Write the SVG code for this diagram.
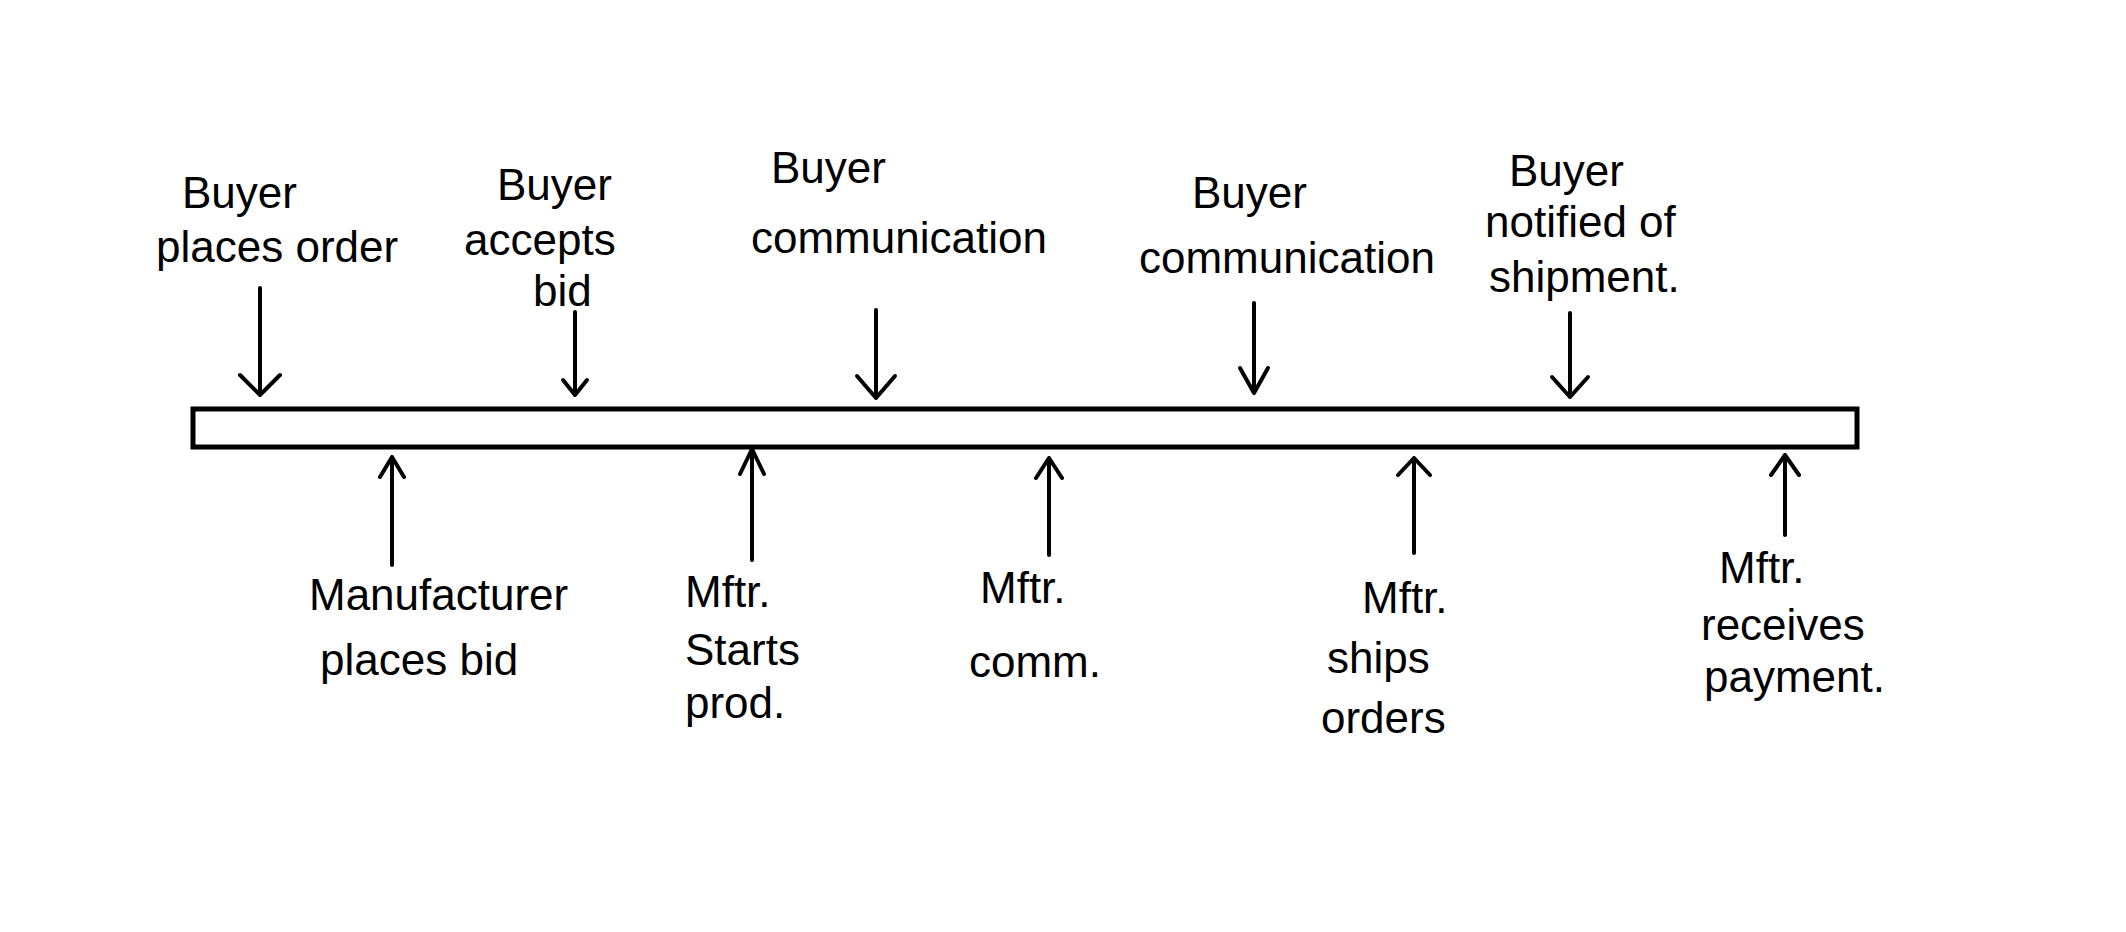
<svg xmlns="http://www.w3.org/2000/svg" width="2126" height="932" viewBox="0 0 2126 932">
<style>
.t{font-family:"Liberation Sans","DejaVu Sans",sans-serif;font-size:44px;fill:#000}
.bar{fill:#fff;stroke:#000;stroke-width:5}
.ln{stroke:#000;stroke-width:4;fill:none;stroke-linecap:round;stroke-linejoin:round}
</style>
<rect width="2126" height="932" fill="#fff"/>
<g id="timeline"><rect class="bar" x="193" y="409" width="1664" height="38"/></g>
<g id="buyer-places-order" class="t">
<text x="182" y="208">Buyer</text>
<text x="156" y="262">places order</text>
</g>
<g id="buyer-accepts-bid" class="t">
<text x="497" y="200">Buyer</text>
<text x="464" y="255">accepts</text>
<text x="533" y="306">bid</text>
</g>
<g id="buyer-communication-1" class="t">
<text x="771" y="183">Buyer</text>
<text x="751" y="253">communication</text>
</g>
<g id="buyer-communication-2" class="t">
<text x="1192" y="208">Buyer</text>
<text x="1139" y="273">communication</text>
</g>
<g id="buyer-notified" class="t">
<text x="1509" y="186">Buyer</text>
<text x="1485" y="237">notified of</text>
<text x="1489" y="292">shipment.</text>
</g>
<g id="mftr-places-bid" class="t">
<text x="309" y="610">Manufacturer</text>
<text x="320" y="675">places bid</text>
</g>
<g id="mftr-starts-prod" class="t">
<text x="685" y="607">Mftr.</text>
<text x="685" y="665">Starts</text>
<text x="685" y="718">prod.</text>
</g>
<g id="mftr-comm" class="t">
<text x="980" y="603">Mftr.</text>
<text x="969" y="677">comm.</text>
</g>
<g id="mftr-ships-orders" class="t">
<text x="1362" y="613">Mftr.</text>
<text x="1327" y="673">ships</text>
<text x="1321" y="733">orders</text>
</g>
<g id="mftr-receives-payment" class="t">
<text x="1719" y="583">Mftr.</text>
<text x="1701" y="640">receives</text>
<text x="1704" y="692">payment.</text>
</g>
<g id="connectors" class="ln">
<path d="M260 288V395M240 375L260 395L280 375"/>
<path d="M575 312V395M563 380L575 395L587 380"/>
<path d="M876 310V398M857 376L876 398L895 376"/>
<path d="M1254 303V393M1240 368L1254 393L1268 368"/>
<path d="M1570 313V397M1552 377L1570 397L1588 377"/>
<path d="M392 565V457M380 477L392 457L404 477"/>
<path d="M752 560V449M740 474L752 449L764 474"/>
<path d="M1049 555V458M1036 478L1049 458L1062 478"/>
<path d="M1414 553V458M1398 475L1414 458L1430 475"/>
<path d="M1785 535V455M1771 475L1785 455L1799 475"/>
</g>
</svg>
